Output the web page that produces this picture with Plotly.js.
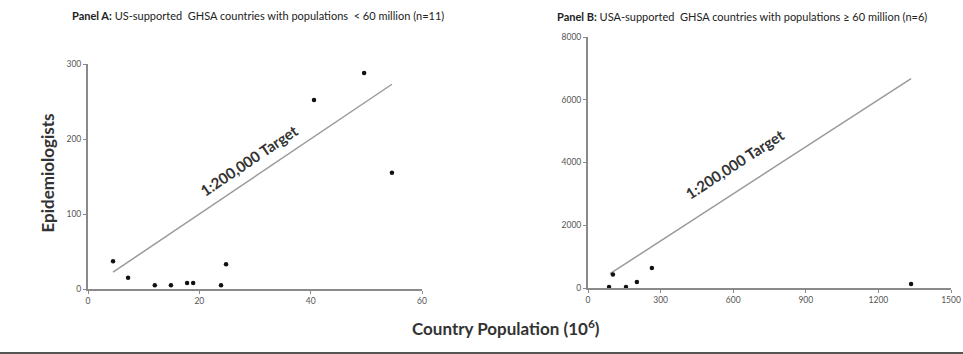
<!DOCTYPE html>
<html>
<head>
<meta charset="utf-8">
<script src="https://cdn.plot.ly/plotly-3.0.1.min.js"></script>
<style>html,body{margin:0;padding:0;background:#fff;}#chart{width:963px;height:354px;}</style>
</head>
<body>
<div id="chart"></div>
<script>
// Panel A: countries < 60 million
const popA = [4.5, 7.2, 12, 14.9, 17.8, 18.9, 23.9, 24.8, 40.6, 49.6, 54.6];
const epiA = [37, 15, 5, 5, 8, 8, 5, 33, 252, 288, 155];
const targetAx = [4.5, 54.6];
const targetAy = [22.5, 273];
// Panel B: countries >= 60 million
const popB = [87, 103, 157, 202, 264, 1335];
const epiB = [30, 430, 30, 190, 640, 130];
const targetBx = [91, 1335];
const targetBy = [455, 6675];

const ticksAx = [0, 20, 40, 60];
const ticksAy = [0, 100, 200, 300];
const ticksBx = [0, 300, 600, 900, 1200, 1500];
const ticksBy = [0, 2000, 4000, 6000, 8000];

const W = 963, H = 354;
const FONT = 'Lato, "Open Sans", sans-serif';
const lineCol = '#9a9a9a';

const traces = [
  {x: targetAx, y: targetAy, mode: 'lines', line: {color: lineCol, width: 1.5}, xaxis: 'x', yaxis: 'y', hoverinfo: 'skip'},
  {x: popA, y: epiA, mode: 'markers', marker: {color: '#111', size: 4.5}, xaxis: 'x', yaxis: 'y', cliponaxis: false},
  {x: targetBx, y: targetBy, mode: 'lines', line: {color: lineCol, width: 1.5}, xaxis: 'x2', yaxis: 'y2', hoverinfo: 'skip'},
  {x: popB, y: epiB, mode: 'markers', marker: {color: '#111', size: 4.5}, xaxis: 'x2', yaxis: 'y2', cliponaxis: false}
];

const axBase = {
  showgrid: false, zeroline: false, showline: true, linecolor: '#8a8a8a', linewidth: 2,
  ticks: 'outside', ticklen: 3, tickcolor: '#8a8a8a', tickwidth: 1,
  tickfont: {family: FONT, size: 8.5, color: '#555'}, tickmode: 'array'
};

const layout = {
  width: W, height: H,
  margin: {l: 0, r: 0, t: 0, b: 0},
  paper_bgcolor: '#fff', plot_bgcolor: 'rgba(0,0,0,0)',
  showlegend: false,
  font: {family: FONT},
  xaxis: Object.assign({}, axBase, {domain: [88/W, 422/W], range: [0, 60], tickvals: ticksAx, anchor: 'y'}),
  yaxis: Object.assign({}, axBase, {domain: [1-289/H, 1-64/H], range: [0, 300], tickvals: ticksAy, anchor: 'x'}),
  xaxis2: Object.assign({}, axBase, {domain: [588/W, 951/W], range: [0, 1500], tickvals: ticksBx, anchor: 'y2'}),
  yaxis2: Object.assign({}, axBase, {domain: [1-288/H, 1-37/H], range: [0, 8000], tickvals: ticksBy, anchor: 'x2'}),
  annotations: [
    {xref: 'paper', yref: 'paper', x: 70/W, y: 1-15/H, xanchor: 'left', yanchor: 'middle', showarrow: false,
     text: '<b>Panel A:</b> US-supported  GHSA countries with populations  < 60 million (n=11)',
     font: {family: FONT, size: 11, color: '#222'}},
    {xref: 'paper', yref: 'paper', x: 555/W, y: 1-17/H, xanchor: 'left', yanchor: 'middle', showarrow: false,
     text: '<b>Panel B:</b> USA-supported  GHSA countries with populations \u2265 60 million (n=6)',
     font: {family: FONT, size: 11, color: '#222'}},
    {xref: 'x', yref: 'y', x: 29, y: 172, showarrow: false, textangle: -34,
     text: '<b>1:200,000 Target</b>', font: {family: FONT, size: 15, color: '#333'}},
    {xref: 'x2', yref: 'y2', x: 606, y: 3950, showarrow: false, textangle: -33,
     text: '<b>1:200,000 Target</b>', font: {family: FONT, size: 15, color: '#333'}},
    {xref: 'paper', yref: 'paper', x: 34/W, y: 1-173/H, showarrow: false, textangle: -90,
     text: '<b>Epidemiologists</b>', font: {family: FONT, size: 17, color: '#333'}},
    {xref: 'paper', yref: 'paper', x: 506/W, y: 1-341/H, showarrow: false,
     text: '<b>Country Population (10<sup>6</sup>)</b>', font: {family: FONT, size: 17, color: '#333'}}
  ],
  shapes: [
    {type: 'line', xref: 'paper', yref: 'paper', x0: 0, x1: 1, y0: 1/H, y1: 1/H, line: {color: '#555', width: 2}}
  ]
};

Plotly.newPlot('chart', traces, layout, {displayModeBar: false, staticPlot: true});
</script>
</body>
</html>
